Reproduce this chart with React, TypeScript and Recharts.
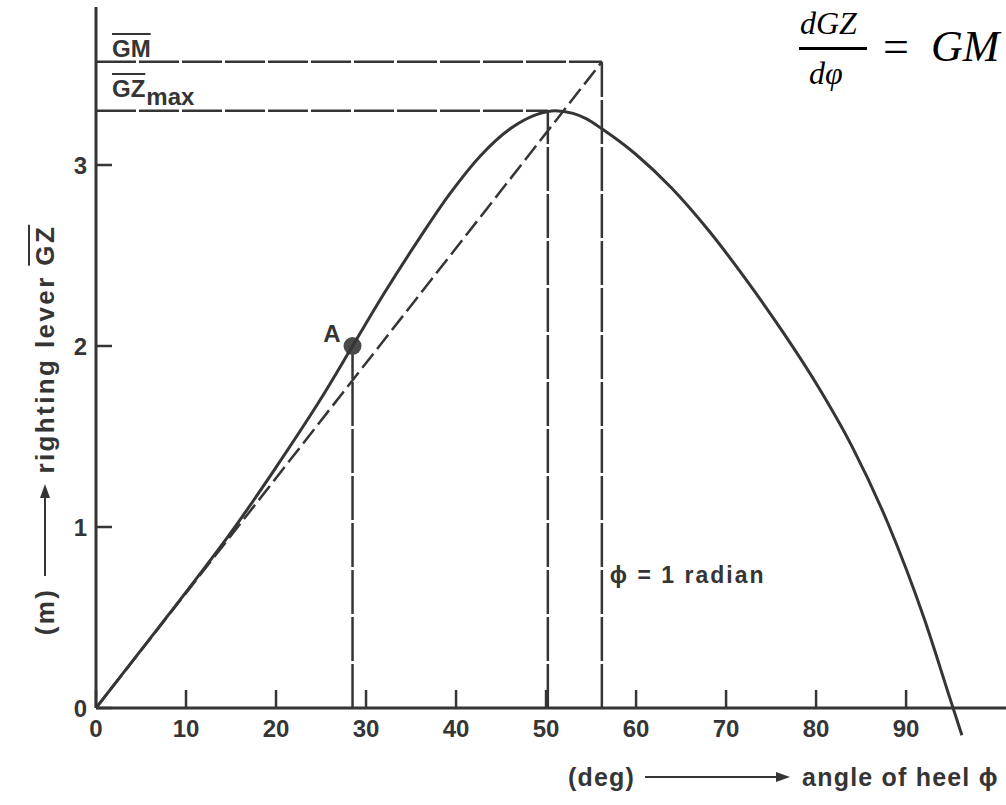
import React from "react";
import {
  ComposedChart,
  Line,
  XAxis,
  YAxis,
  ReferenceLine,
  ReferenceDot,
} from "recharts";

// GZ curve: angle of heel (deg) -> righting lever (m)
const heelAngles = [
  0, 5, 10, 15, 20, 25, 28.5, 32, 36, 39.3, 42.7, 46.3, 49, 51, 53, 54.5, 56.2,
  60, 64, 68, 72, 76, 80, 84, 88, 92, 95, 96.2,
];
const gzValues = [
  0, 0.32, 0.64, 0.97, 1.33, 1.71, 2.0, 2.29, 2.6, 2.84, 3.05, 3.21, 3.28, 3.3,
  3.285, 3.255, 3.2, 3.058, 2.87, 2.642, 2.382, 2.1, 1.794, 1.444, 1.018, 0.496,
  0.034, -0.15,
];

const xTicks = [0, 10, 20, 30, 40, 50, 60, 70, 80, 90];
const yTicks = [0, 1, 2, 3];

const GM = 3.57;
const GZ_MAX = 3.3;
const ANGLE_GZ_MAX = 50.2;
const ONE_RADIAN = 56.2;
const POINT_A = { angle: 28.5, gz: 2.0 };
const RADIAN_LABEL_Y = 0.735;

const X_DOMAIN: [number, number] = [0, 101.1];
const Y_DOMAIN: [number, number] = [0, 3.873];
const Y_DOMAIN_TAIL: [number, number] = [-0.16, 3.873];

const curveRows = heelAngles.map((angle, i) => ({ angle, gz: gzValues[i] }));

const INK = "#353535";
const FONT = "'Liberation Sans', Arial, Helvetica, sans-serif";
const SERIF = "'Liberation Serif', 'Times New Roman', serif";

const tickStyle = {
  fill: INK,
  fontSize: 24,
  fontWeight: 700,
  fontFamily: FONT,
};

function Arrow({ length }: { length: number }) {
  return (
    <svg width={length} height={14} style={{ display: "block" }}>
      <line x1={0} y1={7} x2={length - 12} y2={7} stroke={INK} strokeWidth={2} />
      <polygon points={`${length - 14},2 ${length},7 ${length - 14},12`} fill={INK} />
    </svg>
  );
}

const over: React.CSSProperties = {
  textDecoration: "overline",
  textDecorationThickness: "2px",
};

export default function App() {
  return (
    <div
      style={{
        position: "absolute",
        left: 0,
        top: 0,
        width: 1006,
        height: 805,
        overflow: "hidden",
        background: "#fff",
        fontFamily: FONT,
        color: INK,
      }}
    >
      <div style={{ position: "absolute", left: 0, top: 0 }}>
        <ComposedChart
          width={1006}
          height={805}
          data={curveRows}
          margin={{ top: 7, right: 0, bottom: 57, left: 56 }}
        >
          <XAxis
            dataKey="angle"
            type="number"
            domain={X_DOMAIN}
            ticks={xTicks}
            allowDataOverflow
            height={40}
            axisLine={{ stroke: INK, strokeWidth: 3 }}
            tickLine={{ stroke: INK, strokeWidth: 2.5 }}
            tickSize={-18}
            tickMargin={30}
            tick={tickStyle}
            interval={0}
          />
          <YAxis
            type="number"
            domain={Y_DOMAIN}
            ticks={yTicks}
            allowDataOverflow
            width={40}
            axisLine={{ stroke: INK, strokeWidth: 3 }}
            tickLine={{ stroke: INK, strokeWidth: 2.5 }}
            tickSize={-16}
            tickMargin={25}
            tick={tickStyle}
            interval={0}
          />
          {/* GM level and tangent at the origin */}
          <ReferenceLine
            segment={[
              { x: 0, y: GM },
              { x: ONE_RADIAN, y: GM },
            ]}
            stroke={INK}
            strokeWidth={2.5}
            strokeDasharray="40 3"
          />
          <ReferenceLine
            segment={[
              { x: ONE_RADIAN, y: 0 },
              { x: ONE_RADIAN, y: GM },
            ]}
            stroke={INK}
            strokeWidth={2.5}
            strokeDasharray="44 3"
          />
          <ReferenceLine
            segment={[
              { x: 0, y: 0 },
              { x: ONE_RADIAN, y: GM },
            ]}
            stroke={INK}
            strokeWidth={2.5}
            strokeDasharray="18 6"
          />
          {/* GZ max level */}
          <ReferenceLine
            segment={[
              { x: 0, y: GZ_MAX },
              { x: ANGLE_GZ_MAX, y: GZ_MAX },
            ]}
            stroke={INK}
            strokeWidth={2.5}
            strokeDasharray="40 3"
          />
          <ReferenceLine
            segment={[
              { x: ANGLE_GZ_MAX, y: 0 },
              { x: ANGLE_GZ_MAX, y: GZ_MAX },
            ]}
            stroke={INK}
            strokeWidth={2.5}
            strokeDasharray="44 3"
          />
          {/* inflection point A */}
          <ReferenceLine
            segment={[
              { x: POINT_A.angle, y: 0 },
              { x: POINT_A.angle, y: POINT_A.gz },
            ]}
            stroke={INK}
            strokeWidth={2.5}
            strokeDasharray="44 3"
          />
          <ReferenceDot
            x={POINT_A.angle}
            y={POINT_A.gz}
            r={9}
            fill="#4a4a4a"
            stroke="none"
            label={{
              value: "A",
              position: "left",
              offset: 3,
              dy: -13,
              fill: INK,
              fontSize: 24,
              fontWeight: 700,
              fontFamily: FONT,
            }}
          />
          <ReferenceDot
            x={ONE_RADIAN}
            y={RADIAN_LABEL_Y}
            r={0}
            fill="none"
            stroke="none"
            label={{
              value: "ϕ = 1 radian",
              position: "right",
              offset: 8,
              fill: INK,
              fontSize: 23,
              fontWeight: 700,
              fontFamily: FONT,
              letterSpacing: 2,
            }}
          />
        </ComposedChart>
      </div>

      {/* the GZ curve, drawn on a same-scale overlay so its tail below zero is not clipped */}
      <div style={{ position: "absolute", left: 0, top: 0, pointerEvents: "none" }}>
        <ComposedChart
          width={1006}
          height={805}
          data={curveRows}
          margin={{ top: 7, right: 0, bottom: 68, left: 96 }}
        >
          <XAxis dataKey="angle" type="number" domain={X_DOMAIN} allowDataOverflow hide height={0} />
          <YAxis type="number" domain={Y_DOMAIN_TAIL} allowDataOverflow hide width={0} />
          <Line
            dataKey="gz"
            type="monotone"
            stroke={INK}
            strokeWidth={3}
            dot={false}
            activeDot={false}
            isAnimationActive={false}
          />
        </ComposedChart>
      </div>

      {/* level labels */}
      <div
        style={{
          position: "absolute",
          left: 112,
          top: 37,
          fontSize: 24,
          lineHeight: "24px",
          fontWeight: 700,
        }}
      >
        <span style={over}>GM</span>
      </div>
      <div
        style={{
          position: "absolute",
          left: 112,
          top: 77,
          fontSize: 24,
          lineHeight: "24px",
          fontWeight: 700,
          whiteSpace: "nowrap",
        }}
      >
        <span style={over}>GZ</span>
        <span style={{ position: "relative", top: 8, marginLeft: 1 }}>max</span>
      </div>

      {/* y axis title */}
      <div
        style={{
          position: "absolute",
          left: 45 - 260,
          top: 430 - 16,
          width: 520,
          height: 32,
          transform: "rotate(-90deg)",
          display: "flex",
          alignItems: "center",
          justifyContent: "center",
          fontSize: 26,
          fontWeight: 700,
          letterSpacing: 2.4,
          whiteSpace: "nowrap",
        }}
      >
        <span>(m)</span>
        <span style={{ margin: "0 10px 0 12px" }}>
          <Arrow length={92} />
        </span>
        <span>righting lever&nbsp;</span>
        <span style={over}>GZ</span>
      </div>

      {/* x axis title */}
      <div
        style={{
          position: "absolute",
          left: 568,
          top: 761,
          height: 32,
          display: "flex",
          alignItems: "center",
          fontSize: 25,
          fontWeight: 700,
          letterSpacing: 1.2,
          whiteSpace: "nowrap",
        }}
      >
        <span>(deg)</span>
        <span style={{ margin: "0 12px 0 10px" }}>
          <Arrow length={145} />
        </span>
        <span>angle of heel ϕ</span>
      </div>

      {/* formula */}
      <div
        style={{
          position: "absolute",
          left: 800,
          top: 7,
          fontFamily: SERIF,
          fontStyle: "italic",
          fontSize: 32,
          lineHeight: "32px",
          color: "#000",
          whiteSpace: "nowrap",
        }}
      >
        dGZ
      </div>
      <div
        style={{
          position: "absolute",
          left: 799,
          top: 47,
          width: 68,
          height: 3,
          background: "#000",
        }}
      />
      <div
        style={{
          position: "absolute",
          left: 809,
          top: 57,
          fontFamily: SERIF,
          fontStyle: "italic",
          fontSize: 32,
          lineHeight: "32px",
          color: "#000",
          whiteSpace: "nowrap",
        }}
      >
        dφ
      </div>
      <div
        style={{
          position: "absolute",
          left: 883,
          top: 24,
          fontFamily: SERIF,
          fontSize: 46,
          lineHeight: "46px",
          color: "#000",
          whiteSpace: "nowrap",
        }}
      >
        =
      </div>
      <div
        style={{
          position: "absolute",
          left: 931,
          top: 25,
          fontFamily: SERIF,
          fontStyle: "italic",
          fontSize: 44,
          lineHeight: "44px",
          color: "#000",
          whiteSpace: "nowrap",
        }}
      >
        GM
      </div>
    </div>
  );
}
